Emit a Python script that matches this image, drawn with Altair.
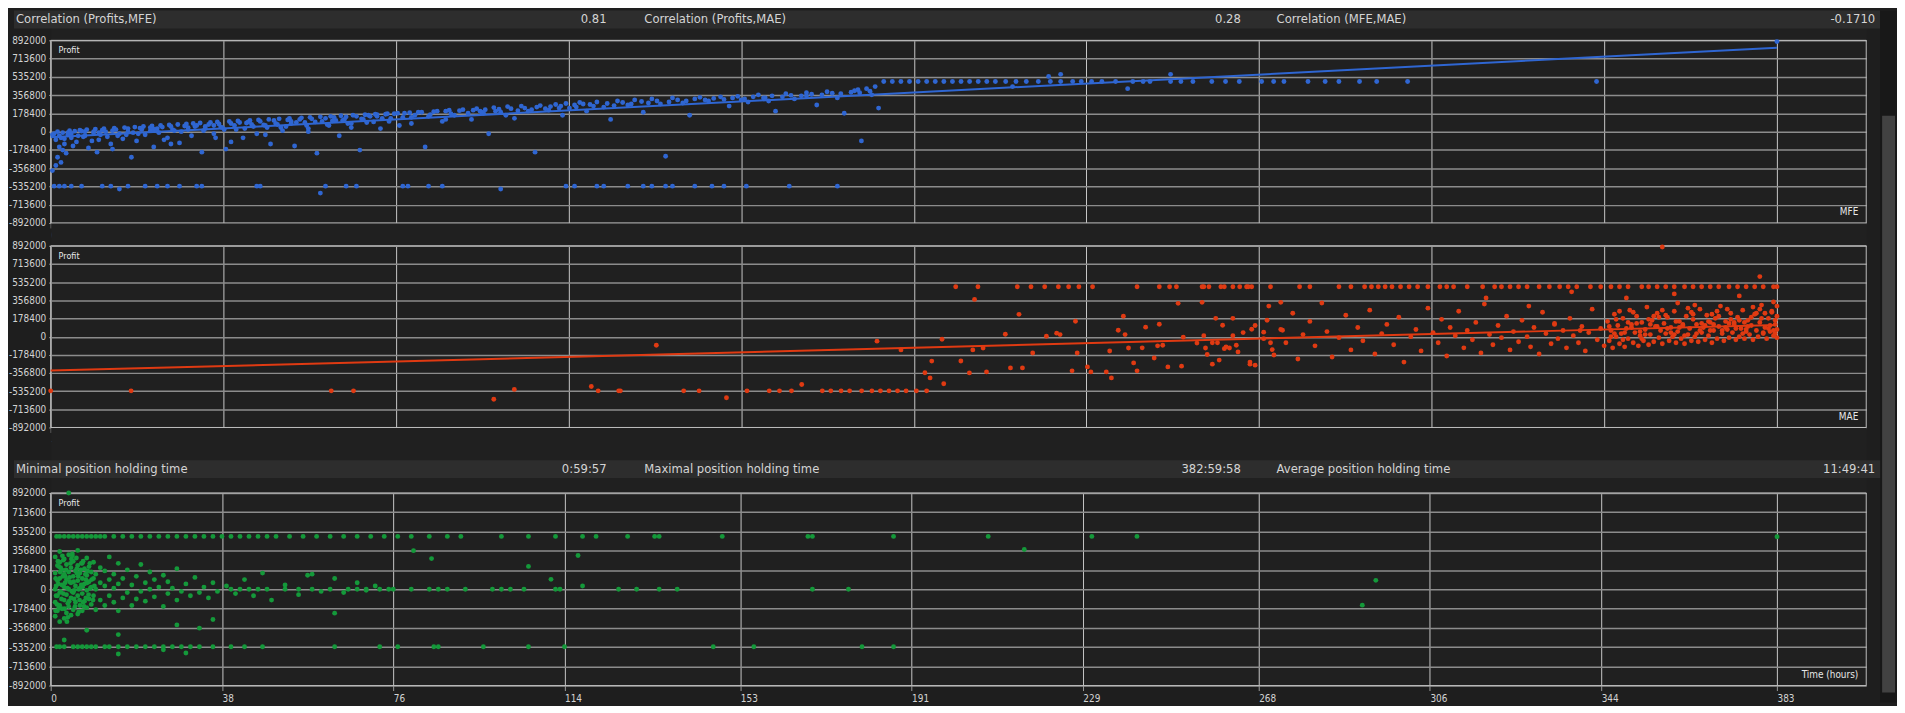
import pandas as pd
import altair as alt

# ---- header texts ----
top_labels = ["Correlation (Profits,MFE)", "Correlation (Profits,MAE)", "Correlation (MFE,MAE)"]
top_values = ["0.81", "0.28", "-0.1710"]
mid_labels = ["Minimal position holding time", "Maximal position holding time", "Average position holding time"]
mid_values = ["0:59:57", "382:59:58", "11:49:41"]

Y_TICKS = [892000, 713600, 535200, 356800, 178400, 0, -178400, -356800, -535200, -713600, -892000]
MFE_TICKS = [0, 100500, 201000, 301500, 402000, 502500, 603000, 703500, 804000, 904500, 1005000]
MAE_TICKS = [-1009000, -908100, -807200, -706300, -605400, -504500, -403600, -302700, -201800, -100900, 0]
TIME_TICKS = [0, 38, 76, 114, 153, 191, 229, 268, 306, 344, 383]

TP_K = 490    # take-profit row (thousands)
SL_K = -532   # stop-loss row (thousands)

# ---- MFE vs profit, (MFE k, profit k) ----
mfe_cloud = [(2, -20), (3, -80), (5, -150), (4, -250), (6, -300), (8, -120), (10, -30), (12, -60), (15, -100),
             (18, 5), (20, -40), (22, -160), (25, -10), (28, -80), (30, 15), (33, -50), (35, -120), (38, 20),
             (40, -20), (42, -70), (45, 30), (48, -10), (50, -90), (52, 35), (55, -30), (58, 40), (60, -150),
             (62, 5), (65, 45), (68, -60), (70, 50), (72, 10), (75, -110), (78, 55), (80, 20), (82, -40), (85, 60),
             (88, -200), (90, 30), (92, 70), (95, -20), (98, 75), (100, 40), (102, -170), (105, 80), (108, 20),
             (110, 90), (112, -60), (115, 95), (118, 50), (120, -20), (122, 100), (125, 60), (128, -120),
             (130, 110), (132, 70), (135, 10), (138, 115), (140, 80), (142, -140), (145, 120), (148, 90),
             (150, 30), (152, 125), (155, -210), (158, 100), (160, 130), (162, 60), (165, 140), (168, -40),
             (170, 110), (172, 145), (175, 80), (178, 150), (180, -180), (182, 120), (185, 160), (188, 95),
             (190, 165), (192, 30), (195, 170), (198, 130), (200, 175), (203, 60), (206, 180), (210, 140),
             (214, 190), (218, -150), (220, 150), (225, 200), (228, 100), (232, 210), (235, 160), (240, 215),
             (245, 120), (248, 225), (252, 180), (255, -20), (258, 235), (262, 190), (266, 245), (270, 130),
             (274, 250), (278, 200), (282, -200), (285, 255), (290, 210), (294, 265), (298, 160), (300, 275),
             (302, 230), (308, 285), (312, 200), (318, 290), (322, 240), (326, 120), (330, 300), (336, 260),
             (340, 310), (345, 190), (350, 320), (355, 270), (358, -240), (362, 330), (368, 280), (372, 160),
             (378, 335), (383, 300), (390, 340), (395, 250), (400, 345), (406, 290), (412, 360), (418, 300),
             (422, 200), (428, 370), (433, 320), (440, 380), (446, 260), (452, 390), (458, 330), (462, 180),
             (468, 400), (472, -90), (475, 420), (478, 360), (480, 440), (482, 230), (1005, 880), (581, 540),
             (588, 560), (652, 560), (560, 440), (627, 420), (40, -560), (157, -600), (262, -560),
             (10, -10), (14, 5), (6, -60), (25, 0), (60, 25), (95, 60), (140, 100), (190, 150), (250, 200),
             (310, 270), (402, 310), (415, 330), (440, 350), (470, 410), (16, -40), (24, -90), (32, 0),
             (44, -30), (58, 10), (66, -80), (84, 50), (96, -60), (114, 85), (134, 40), (166, 110), (186, 150),
             (7, -180), (9, -210), (3, -330), (1, -380), (13, -140), (27, -200), (36, -170), (47, -250),
             (70, -120), (105, -100), (125, -30), (150, 0), (175, 40), (210, 80), (230, 120), (265, 160),
             (1, -30), (4, 0), (7, -10), (11, 10), (17, 15), (21, 20), (26, 25), (31, 30), (37, 35), (43, 40),
             (49, 45), (54, 50), (59, 55), (64, 60), (69, 65), (74, 70), (79, 75), (83, 80), (87, 85), (93, 90),
             (97, 95), (104, 100), (109, 105), (116, 110), (121, 115), (127, 120), (133, 125), (139, 130),
             (146, 135), (151, 140), (157, 145), (163, 150), (169, 155), (176, 160), (183, 165), (189, 170),
             (196, 175), (202, 180), (209, 185), (216, 190), (223, 195), (230, 200), (238, 205), (246, 210),
             (253, 215), (261, 220), (268, 225), (276, 230), (283, 240), (291, 245), (297, 250), (305, 260),
             (314, 265), (324, 275), (333, 285), (344, 295), (353, 300), (365, 310), (375, 320), (386, 325),
             (397, 330), (409, 340), (420, 350), (431, 355), (443, 365), (455, 375), (466, 385), (477, 395),
             (8, -70), (19, -50), (29, -30), (39, -40), (51, -20), (63, -10), (76, 0), (89, 10), (101, 20),
             (113, 30), (126, 40), (137, 50), (149, 60), (161, 70), (173, 80), (184, 90), (197, 100),
             (5, -40), (12, -20), (20, 0), (28, -10), (36, 10), (45, 0), (53, 20), (62, 30), (71, 20), (80, 40),
             (90, 50), (99, 45), (107, 60), (117, 70), (124, 65), (131, 80), (143, 90), (154, 95), (164, 105),
             (171, 120), (181, 125), (193, 130), (205, 140), (212, 160), (221, 165), (233, 175), (243, 180),
             (251, 190), (259, 200), (272, 205), (280, 215), (288, 225), (296, 230), (306, 240), (316, 250),
             (328, 255), (338, 270), (348, 280), (360, 290), (370, 300), (381, 310), (392, 315), (404, 320),
             (416, 330), (426, 340), (437, 350), (449, 360), (460, 370), (471, 380)]
mfe_tp = [485, 490, 495, 500, 505, 510, 515, 520, 525, 530, 535, 540, 545, 550, 556, 562, 568, 575, 582, 588,
          595, 600, 606, 612, 620, 630, 636, 640, 652, 658, 665, 676, 684, 692, 705, 712, 718, 732, 742, 750,
          762, 772, 790, 900]
mfe_sl = [2, 5, 8, 12, 18, 30, 35, 45, 55, 62, 68, 75, 85, 88, 120, 122, 160, 172, 178, 205, 208, 220, 228,
          300, 305, 318, 322, 336, 345, 350, 358, 362, 375, 385, 392, 405, 430, 458]

# ---- MAE vs profit, (MAE k, profit k) ----
mae_sl = [-1009, -962, -845, -832, -689, -677, -676, -639, -630, -602, -589, -583, -576, -558, -553, -547,
          -542, -535, -529, -524, -519, -514, -509, -503, -497]
mae_tp = [-480, -467, -444, -436, -428, -420, -414, -408, -400, -374, -361, -355, -351, -335, -325, -318, -309,
          -296, -336, -332, -323, -314, -310, -307, -279, -273, -256, -249, -241, -237, -233, -229, -225,
          -220, -215, -210, -204, -197, -193, -189, -181, -172, -165, -161, -156, -151, -146, -139, -133,
          -127, -122, -117, -109, -103, -97, -92, -87, -79, -75, -70, -65, -60, -54, -49, -44, -39, -34, -28,
          -23, -18, -13, -8, -2, 0]
mae_cloud = [(-750, -615), (-738, -518), (-693, -490), (-655, -85), (-614, -600), (-570, -470),
             (-526, -44), (-512, -130), (-488, -25), (-494, -240), (-498, -355), (-495, -405), (-487, -463),
             (-477, -239), (-472, -356), (-469, 366), (-470, -130), (-464, -112), (-462, -346), (-451, 24),
             (-443, 219), (-448, -307), (-441, -307), (-435, -161), (-427, 4), (-421, 34), (-419, 20),
             (-410, 151), (-409, -161), (-412, -336), (-403, -297), (-401, -346), (-392, -346), (-389, -405),
             (-390, -141), (-385, 63), (-382, 200), (-381, 20), (-379, -112), (-376, -258), (-374, -336),
             (-371, -110), (-369, 93), (-364, -210), (-362, -90), (-361, 122), (-359, -85), (-356, -297),
             (-350, 327), (-348, -290), (-347, -5), (-339, -63), (-336, 337), (-334, -112), (-333, -175),
             (-330, -270), (-328, 180), (-327, -60), (-324, 112), (-323, -118), (-320, -112), (-318, 10),
             (-316, -85), (-308, -250), (-307, 73), (-305, -280), (-300, 44), (-298, 161), (-296, -60),
             (-295, -127), (-290, 337), (-289, 63),
             (-335, 10), (-330, -60), (-326, -230), (-322, -100), (-318, 180), (-315, -150), (-312, 40),
             (-308, -270), (-305, 110), (-300, -20), (-297, 300), (-294, -180), (-290, 70), (-287, -60),
             (-283, 230), (-280, -220), (-277, 20), (-273, 150), (-270, -90), (-266, 330), (-263, 50),
             (-260, -200), (-256, -10), (-252, 210), (-249, -130), (-245, 90), (-242, -40), (-238, 260),
             (-235, -170), (-231, 30), (-228, 120), (-224, -80), (-221, 190), (-218, -250), (-214, 0),
             (-211, 70), (-208, -140), (-204, 280), (-201, 40), (-198, -60), (-196, 170), (-193, -190),
             (-191, 90), (-188, 10), (-186, 250), (-183, -110), (-181, 60), (-178, -30), (-176, 140),
             (-173, -160), (-171, 320), (-168, 20), (-166, -80), (-163, 110), (-161, -10), (-158, 200),
             (-156, -130), (-154, 50), (-151, -50), (-149, 160), (-146, 0), (-144, -100), (-142, 90),
             (-139, -170), (-137, 240), (-135, 30), (-132, -70), (-130, 130), (-128, -20), (-125, 60),
             (-123, -110), (-121, 180), (-119, 10), (-116, -60), (-114, 100), (-112, -140), (-110, 40),
             (-108, 270), (-105, -30), (-103, 80), (-101, -90),
             (-99, 150), (-98, -40), (-97, 60), (-96, -110), (-95, 220), (-94, 0), (-93, 110), (-92, -70),
             (-91, 30), (-90, 180), (-89, -100), (-88, 80), (-87, -20), (-86, 260), (-85, 120), (-84, -60),
             (-83, 40), (-82, 200), (-81, -90), (-80, 10), (-79, 140), (-78, -40), (-77, 70), (-76, 290),
             (-75, -80), (-74, 20), (-73, 160), (-72, -50), (-71, 100), (-70, 230), (-69, -10), (-68, 60),
             (-67, -70), (-66, 130), (-65, 30), (-64, 190), (-63, -40), (-62, 90), (-61, 0), (-60, 250),
             (-59, -60), (-58, 50), (-57, 150), (-56, -20), (-55, 110), (-54, -70), (-53, 200), (-52, 20),
             (-51, 80), (-50, -40), (-49, 170), (-48, 0), (-47, 120), (-46, -50), (-45, 270), (-44, 40),
             (-43, 90), (-42, -30), (-41, 210), (-40, 10), (-39, 140), (-38, -60), (-37, 60), (-36, 180),
             (-35, -20), (-34, 100), (-33, 300), (-32, 30), (-31, -40), (-30, 150), (-29, 70), (-28, -10),
             (-27, 230), (-26, 40), (-25, 120), (-24, -30), (-23, 190), (-22, 0), (-21, 80), (-20, 260),
             (-19, -20), (-18, 50), (-17, 160), (-16, 20), (-15, 110), (-14, -30), (-13, 220), (-12, 60),
             (-11, 0), (-10, 140), (-9, 310), (-8, 30), (-7, 90), (-6, -20), (-5, 180), (-4, 50), (-3, 240),
             (-2, 10), (-1, 120), (0, -10), (0, 70), (0, 200), (0, 300),
             (-170, 380), (-120, 440), (-88, 380), (-60, 420), (-22, 400), (-10, 590), (-67, 880),
             (-95, 30), (-85, 90), (-75, 170), (-65, 210), (-55, 120), (-45, 60), (-35, 250), (-25, 140),
             (-15, 190), (-5, 80), (-92, 250), (-82, 130), (-72, 200), (-62, 40), (-52, 280), (-42, 110),
             (-32, 60), (-22, 160), (-12, 230), (-2, 340), (-90, -30), (-80, 50), (-70, 100), (-60, 20),
             (-50, 240), (-40, 150), (-30, 90), (-20, 30), (-10, 270), (-1, 160), (-145, 300), (-130, 120),
             (-115, 60), (-58, 330), (-48, 310), (-38, 220), (-28, 130), (-18, 70), (-8, 40), (-3, 250),
             (-98, 100), (-94, 170), (-89, 40), (-84, 240), (-79, -20), (-74, 120), (-69, 190), (-64, 80),
             (-59, 150), (-54, 10), (-49, 220), (-44, 130), (-39, 60), (-34, 200), (-29, 270), (-24, 80),
             (-19, 140), (-14, 290), (-9, 180), (-4, 110), (-1, 30), (-97, 0), (-87, 140), (-77, 20),
             (-67, 260), (-57, 90), (-47, 30), (-37, 120), (-27, 170), (-17, 100), (-7, 230), (-2, 60)]

# ---- holding time vs profit, (hours, profit k) ----
time_tp = [1.3, 2, 3, 4, 5, 6, 7, 8, 9, 10, 11, 12, 14, 16, 18, 20, 22, 24, 26, 28, 30, 32, 34, 36, 38, 40, 42,
           44, 46, 48, 50, 53, 56, 59, 62, 65, 68, 71, 74, 77, 80, 84, 88, 91, 100, 106, 112, 118, 121, 128, 134,
           135, 149, 168, 169, 187, 208, 231, 241]
time_sl = [1.3, 2, 3, 5, 6, 7, 8, 9, 10, 12, 13, 15, 17, 19, 21, 23, 25, 27, 29, 31, 33, 36, 40, 43, 47, 63, 73,
           77, 85, 86, 96, 106, 114, 147, 156, 180, 187]
time_zero = [40, 42, 44, 46, 48, 52, 55, 58, 62, 66, 68, 70, 73, 76, 80, 84, 86, 88, 92, 98, 100, 102, 105, 112,
             113, 126, 130, 135, 139, 169, 177]
time_cloud = [(1, -250), (1, -120), (1, 0), (1, 150), (1, 300), (1.5, -200), (1.5, -60), (1.5, 80), (1.5, 220),
              (2, -300), (2, -150), (2, -30), (2, 100), (2, 250), (2, 350), (2.5, -180), (2.5, 40), (2.5, 180),
              (3, -270), (3, -100), (3, 20), (3, 140), (3, 280), (3.5, -220), (3.5, -50), (3.5, 90), (3.5, 230),
              (4, -160), (4, 0), (4, 160), (4, 320), (4.5, -240), (4.5, -80), (4.5, 60), (4.5, 200), (5, -190),
              (5, -30), (5, 120), (5, 260), (5.5, -120), (5.5, 30), (5.5, 170), (6, -230), (6, -60), (6, 80),
              (6, 220), (6, 360), (6.5, -150), (6.5, 10), (6.5, 150), (7, -200), (7, -40), (7, 100), (7, 240),
              (7.5, -110), (7.5, 50), (7.5, 190), (8, -170), (8, -10), (8, 130), (8, 290), (8.5, -90), (8.5, 70),
              (8.5, 210), (9, -140), (9, 20), (9, 160), (9.5, -60), (9.5, 100), (9.5, 250), (10, -190), (10, 0),
              (10, 140), (11, -100), (11, 60), (11, 200), (12, -150), (12, 30), (12, 170), (13, -60), (13, 90),
              (13, 300), (14, -120), (14, 10), (14, 140), (15, -200), (15, 50), (15, 240), (16, -80), (16, 100),
              (17, -30), (17, 180), (18, -150), (18, 40), (19, -90), (19, 120), (20, -20), (20, 230), (21, -110),
              (21, 60), (22, 0), (22, 160), (23, -70), (23, 90), (24, 20), (25, -160), (25, 130), (26, -40),
              (26, 70), (27, 10), (28, -100), (28, 190), (29, -20), (30, 50), (31, -60), (32, 110), (33, -30),
              (34, 20), (35, -80), (36, 60), (37, -20), (39, 30), (41, -40), (43, 90), (45, -60), (47, 150),
              (49, -100), (52, 40), (55, -50), (57, 130), (60, -20), (63, 100), (65, -30), (68, 60), (70, -10),
              (72, 30), (75, 0), (63, -221), (58, 140), (80.5, 358), (84.5, 284), (106, 212), (111, 92),
              (117, 313), (118, 30), (216, 368), (294, 83), (291, -147), (383, 487), (4, 892), (15, -420),
              (8, -380), (28, -330), (33, -360), (36, -280), (3, -470), (15, -600), (30, -590), (25, -560),
              (1.2, -60), (1.8, 210), (2.2, -20), (2.8, 270), (3.2, 60), (3.8, -130), (4.2, 110), (4.8, 330),
              (5.2, -10), (5.8, 190), (6.2, -210), (6.8, 40), (7.2, 260), (7.8, -80), (8.2, 170), (8.8, 10),
              (1.2, 30), (1.8, -170), (2.2, 200), (2.8, -40), (3.2, 120), (3.8, -260), (4.2, 70), (4.8, 310),
              (5.2, -90), (5.8, 150), (6.2, 0), (6.8, 240), (7.2, -120), (7.8, 90),
              (1.1, 100), (1.4, -140), (1.7, 50), (2.1, 160), (2.4, -90), (2.7, 120), (3.1, -180), (3.4, 180),
              (3.7, 10), (4.1, -110), (4.4, 240), (4.7, -20), (5.1, 70), (5.4, -160), (5.7, 290), (6.1, 120),
              (6.4, -100), (6.7, 180), (7.1, 20), (7.4, -160), (7.7, 140), (8.1, 60), (8.4, -50), (8.7, 240),
              (9.1, 90), (9.4, -100), (9.7, 30), (1.1, -200), (1.6, 260), (2.6, 310), (3.6, -300), (4.6, 280)]

# regression line end points (k)
mfe_line = [(0, -55), (1005, 820)]
mae_line = [(-1009, -333), (0, 115)]

W = 1829
BG = "#1e1e1e"
TXT = "#d4d4d4"
FONT = "DejaVu Sans Condensed"
one = pd.DataFrame({"a": [0]})


def frame_of(pairs, xk=True):
    return pd.DataFrame({"x": [p[0] * (1000 if xk else 1) for p in pairs],
                         "y": [p[1] * 1000 for p in pairs]})


def panel(df, color, xdom, xticks, xname, h, ldf=None):
    x_enc = alt.X("x:Q", scale=alt.Scale(domain=xdom, nice=False, zero=False), axis=alt.Axis(
        values=xticks, labelExpr="'' + datum.value", labelAlign="left", labelPadding=3,
        tickSize=5, tickColor="#9a9a9a", grid=True, gridColor="#c8c8c8", gridWidth=1,
        domain=False, title=None, labelFlush=False, labelOverlap=False))
    y_enc = alt.Y("y:Q", scale=alt.Scale(domain=[-892000, 892000], nice=False), axis=alt.Axis(
        values=Y_TICKS, labelExpr="'' + datum.value", labelPadding=3, tickSize=2,
        tickColor="#9a9a9a", grid=True, gridColor="#8c8c8c", gridWidth=1.5,
        domain=False, title=None, labelOverlap=False))
    frame = alt.Chart(one).mark_rect(fillOpacity=0, stroke="#bdbdbd", strokeWidth=1).encode(
        x=alt.value(0), x2=alt.value(W), y=alt.value(0), y2=alt.value(h))
    pts = alt.Chart(df).mark_circle(size=24, opacity=1, color=color).encode(x=x_enc, y=y_enc)
    layers = [frame, pts]
    if ldf is not None:
        layers.append(alt.Chart(ldf).mark_line(color=color, strokeWidth=2).encode(x=x_enc, y=y_enc))
    layers.append(alt.Chart(one).mark_text(text="Profit", align="left", baseline="middle", color="#e8e8e8",
                                           font=FONT, fontSize=9).encode(x=alt.value(8), y=alt.value(10)))
    layers.append(alt.Chart(one).mark_text(text=xname, align="right", baseline="middle", color="#e8e8e8",
                                           font=FONT, fontSize=10).encode(x=alt.value(W - 8), y=alt.value(h - 11)))
    return alt.layer(*layers).properties(width=W, height=h)


def header(labels, values, h, top, scroll=False):
    layers = [alt.Chart(one).mark_rect(color="#2d2d2d").encode(
        x=alt.value(-37), x2=alt.value(1843), y=alt.value(top), y2=alt.value(top + 18))]
    if scroll:
        layers.append(alt.Chart(one).mark_rect(color="#181818").encode(
            x=alt.value(1843), x2=alt.value(1860), y=alt.value(0), y2=alt.value(697)))
        layers.append(alt.Chart(one).mark_rect(color="#424242").encode(
            x=alt.value(1845), x2=alt.value(1858), y=alt.value(106), y2=alt.value(687)))
    for lab, lx in zip(labels, [-35, 598, 1235]):
        layers.append(alt.Chart(one).mark_text(text=lab, align="left", baseline="middle", color=TXT,
                                               font=FONT, fontSize=13).encode(x=alt.value(lx), y=alt.value(top + 9)))
    for val, vx in zip(values, [560, 1199, 1838]):
        layers.append(alt.Chart(one).mark_text(text=val, align="right", baseline="middle", color=TXT,
                                               font=FONT, fontSize=13).encode(x=alt.value(vx), y=alt.value(top + 9)))
    return alt.layer(*layers).properties(width=W, height=h)


mfe_df = frame_of(mfe_cloud + [(v, TP_K) for v in mfe_tp] + [(v, SL_K) for v in mfe_sl])
mae_df = frame_of(mae_cloud + [(v, TP_K) for v in mae_tp] + [(v, SL_K) for v in mae_sl])
time_df = frame_of(time_cloud + [(v, TP_K) for v in time_tp] + [(v, SL_K) for v in time_sl]
                   + [(v, 0) for v in time_zero], xk=False)

spacer = alt.Chart(one).mark_rect(opacity=0).encode(x=alt.value(0), y=alt.value(0)).properties(width=W, height=23)

p1 = panel(mfe_df, "#2f66d2", [0, 1057000], MFE_TICKS, "MFE", 184, frame_of(mfe_line))
p2 = panel(mae_df, "#e03a12", [-1009000, 52200], MAE_TICKS, "MAE", 183, frame_of(mae_line))
p3 = panel(time_df, "#14993a", [0, 402.8], TIME_TICKS, "Time (hours)", 194)

chart = alt.vconcat(
    header(top_labels, top_values, 30, 0, scroll=True), p1, spacer, p2,
    header(mid_labels, mid_values, 66, 33), p3,
    spacing=0, bounds="flush",
).properties(background=BG, padding=0).configure_view(strokeOpacity=0, fill="#202020").configure_axis(
    labelFont=FONT, labelFontSize=10, labelColor=TXT)

chart.save("out.html", embed_options={"renderer": "svg", "actions": False})
